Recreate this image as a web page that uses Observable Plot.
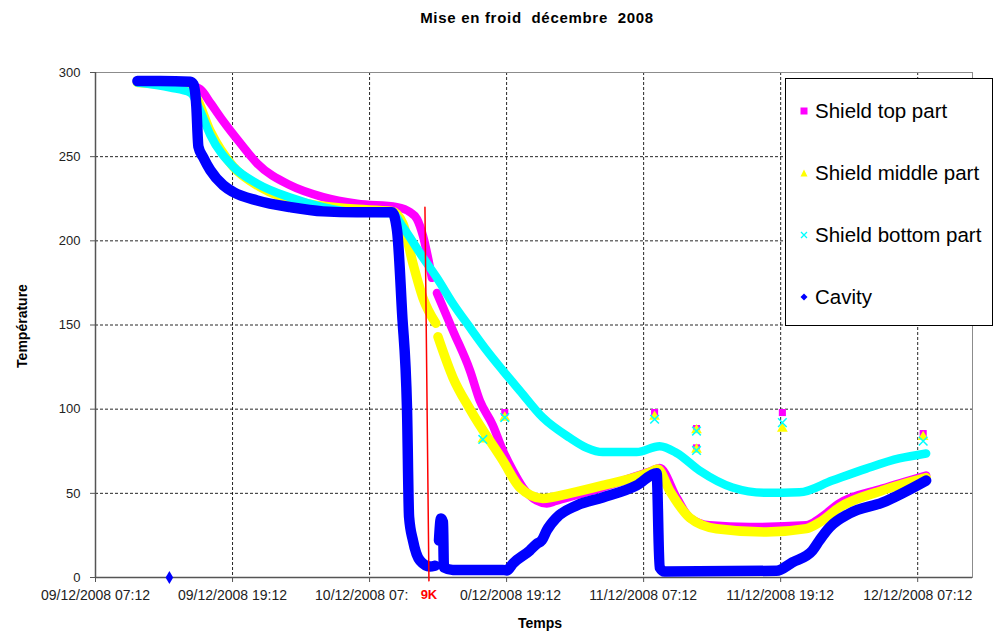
<!DOCTYPE html>
<html><head><meta charset="utf-8">
<script src="https://cdn.jsdelivr.net/npm/d3@7"></script>
<script src="https://cdn.jsdelivr.net/npm/@observablehq/plot@0.6"></script>
<style>
body{margin:0;background:#fff;font-family:"Liberation Sans",Arial,sans-serif;}
#wrap{position:relative;width:995px;height:631px;overflow:hidden;background:#fff}
#title{position:absolute;left:537px;top:9px;transform:translateX(-50%);font-weight:bold;font-size:15px;white-space:pre;color:#000;letter-spacing:0.7px}
#ylab{position:absolute;left:22px;top:326px;transform:translate(-50%,-50%) rotate(-90deg);font-weight:bold;font-size:14px;white-space:pre;color:#000}
#xlab{position:absolute;left:540px;top:623px;transform:translate(-50%,-50%);font-weight:bold;font-size:14px;color:#000}
#legend{position:absolute;left:785px;top:78px;width:206px;height:246px;border:1px solid #000;background:#fff}
.item{position:absolute;left:0;height:24px;display:flex;align-items:center;font-size:20.5px;color:#000;white-space:nowrap}
.item svg{margin-left:14px;margin-right:7px}
</style></head><body><div id="wrap"></div>
<script>
// time in hours since 09/12/2008 00:00
const T0 = Date.UTC(2008, 11, 9);
const toDate = h => new Date(T0 + h * 3600e3);

const seriesNames = ["Shield top part", "Shield middle part", "Shield bottom part", "Cavity"];
const seriesColors = ["#FF00FF", "#FFFF00", "#00FFFF", "#0000FF"];
const seriesSymbols = ["square", "triangle", "times", "diamond"];

const shieldTop = [[10.87,294.5],[13.5,294],[15.07,293],[16.38,290],[17.25,282],[18.39,271],[19.88,258],[21.36,246],[24.25,233],[27.13,226],[30.11,222],[33.6,220],[34.74,217],[35.35,213],[35.88,203],[36.66,178],null,[37.1,169],[38.5,146.7],[39.99,123],[40.86,105],[41.99,90.5],[42.87,75.5],[43.75,63.5],[44.62,53.5],[45.84,45.7],[46.72,44],[47.5,45.5],[51.62,53.5],[55.99,63.6],[56.6,65],[58.09,47.5],[59.22,35.6],[60.97,31],[64.47,30],[69.45,31],[70.59,35],[72.34,44],[76.1,52.8],[79.94,60.6]];
const shieldMiddle = [[10.87,294],[15.07,291],[15.94,286],[17.25,265],[19.27,244],[21.63,232],[25.12,223],[29.5,219],[33.17,217.5],[34.13,210],[35.0,186.5],[35.88,166],[37.0,151],null,[37.19,143],[38.5,118.8],[39.99,100],[42.87,69.5],[44.36,53.5],[46.37,47],[48.73,50],[51.62,54.7],[55.72,62.4],[56.42,64.5],[57.47,51.7],[59.22,35.6],[61.58,29],[65.95,27],[69.45,29],[70.59,32.7],[72.34,41.6],[76.1,51.7],[79.94,59.4]];
const shieldBottom = [[10.87,294],[13.76,291],[15.51,288],[16.38,277],[17.25,263],[19.27,244],[21.36,234],[24.25,225.7],[27.13,220],[30.11,217],[33.17,216.5],[34.13,208],[35.88,190],[37.1,178],[38.5,162.7],[39.99,148.5],[41.47,134.8],[42.87,123],[44.36,111],[46.37,95],[48.73,83],[50.22,77],[51.62,74.5],[54.59,74.5],[56.6,78],[58.09,74],[60.09,63.6],[62.98,53.5],[65.95,50.3],[68.84,50.6],[71.72,57.6],[74.7,64.7],[77.58,70.7],[79.94,73.7]];
const cavity = [[10.87,295],[12.88,295],[15.51,294.5],[15.77,293],[16.03,280],[16.21,256],[16.64,249.5],[17.25,242],[18.39,233],[19.27,229],[21.36,224],[24.25,220],[27.13,217.5],[30.11,217],[33.17,217],[33.61,206],[34.05,157],[34.48,100],[34.66,36],[35.0,22],[35.62,10],[36.49,6.5],[36.93,7],null,[37.28,22],[37.45,35],[37.63,33],[37.71,6],[38.5,4.5],[42.87,4.5],[43.22,4.2],[43.75,8.3],[45.23,16],[45.84,20],[46.28,22],[46.72,28],[47.59,35.6],[49.34,42.8],[51.62,47.5],[54.59,54.7],[56.34,62],[56.6,6],[57.03,3.5],[66.83,4],[68.23,9],[69.98,16],[70.59,22],[71.47,29.7],[73.22,38],[76.1,44.5],[79.94,57.6]];

const topPoints = [[43.04,98],[56.16,98],[59.83,88.5],[59.83,77],[67.35,98],[79.68,85.5]];
const middlePoints = [[41.12,82],[43.04,95],[56.16,95.5],[59.83,87.5],[59.83,76],[67.35,88.5],[79.68,83.5]];
const bottomPoints = [[41.12,82],[43.04,95],[56.16,94],[59.83,87],[59.83,75.5],[67.35,92],[79.68,81]];
const cavityPoints = [[13.67,0]];

const redLine = [[36.05,220],[36.40,-2]];
const redLabel = "9K";
const redLabelHour = 36.40;

const xTickHours = [7.2, 19.2, 31.2, 43.2, 55.2, 67.2, 79.2];
// labels as visible in the picture (partly hidden by the "9K" box)
const xTickLabels = ["09/12/2008 07:12","09/12/2008 19:12","10/12/2008 07:","\u20070/12/2008 19:12","11/12/2008 07:12","11/12/2008 19:12","12/12/2008 07:12"];
const yTicks = [0, 50, 100, 150, 200, 250, 300];
const xDomainHours = [7.2, 84];

const toRows = arr => arr.map(p => p ? {t: toDate(p[0]), v: p[1]} : {t: null, v: NaN});
const lineSeries = [shieldTop, shieldMiddle, shieldBottom, cavity];
const pointSeries = [topPoints, middlePoints, bottomPoints, cavityPoints];
const widths = [8.5, 9.5, 8.5, 10.5];

const xTicks = xTickHours.map(toDate);
const xLabelRows = xTicks.map((d, i) => ({t: d, label: xTickLabels[i]}));

const marks = [
  Plot.gridY(yTicks, {stroke: "#000", strokeOpacity: 0.85, strokeDasharray: "3,2"}),
  Plot.gridX(xTicks, {stroke: "#000", strokeOpacity: 0.85, strokeDasharray: "3,2"}),
  Plot.frame({stroke: "#8c8c8c"}),
  Plot.ruleX([toDate(xDomainHours[0])], {stroke: "#555", strokeWidth: 1.5}),
  Plot.ruleY([0], {stroke: "#555", strokeWidth: 1.5}),
];
lineSeries.forEach((s, i) => {
  marks.push(Plot.line(toRows(s), {
    x: "t", y: "v", stroke: seriesColors[i], strokeWidth: widths[i],
    curve: "monotone-x", strokeLinecap: "round", strokeLinejoin: "round"
  }));
});
pointSeries.forEach((s, i) => {
  const sym = seriesSymbols[i];
  const opts = {x: "t", y: "v", symbol: sym, r: 4};
  if (sym === "times") { opts.stroke = seriesColors[i]; opts.strokeWidth = 1.5; opts.fill = "none"; }
  else { opts.fill = seriesColors[i]; }
  marks.push(Plot.dot(toRows(s), opts));
});
marks.push(
  Plot.line(toRows(redLine), {x: "t", y: "v", stroke: "#FF0000", strokeWidth: 1.5}),
  Plot.axisY(yTicks, {tickSize: 5, tickPadding: 10, fontSize: 13, label: null, stroke: "#555", fill: "#222"}),
  Plot.axisX(xTicks, {tickSize: 5, label: null, stroke: "#555", tickFormat: () => ""}),
  Plot.text(xLabelRows, {x: "t", frameAnchor: "bottom", text: "label", dy: 22, dx: -54.5,
    textAnchor: "start", fontSize: 14, fill: "#222"}),
  Plot.text([{t: toDate(redLabelHour)}], {x: "t", frameAnchor: "bottom", text: () => redLabel, dy: 21,
    fill: "#FF0000", fontSize: 13, fontWeight: "bold"})
);

const chart = Plot.plot({
  width: 995, height: 631,
  marginLeft: 95, marginRight: 23, marginTop: 72, marginBottom: 54,
  x: {type: "utc", domain: xDomainHours.map(toDate)},
  y: {domain: [0, 300]},
  style: {fontFamily: "'Liberation Sans', Arial, sans-serif", background: "#fff", overflow: "visible"},
  marks
});

const wrap = document.getElementById("wrap");
wrap.appendChild(chart);
const add = (id, txt) => { const d = document.createElement("div"); d.id = id; d.textContent = txt; wrap.appendChild(d); return d; };
add("title", "Mise en froid  décembre  2008");
add("ylab", "Température");
add("xlab", "Temps");
const lg = add("legend", "");
const symSvg = (sym, c) => {
  if (sym === "square") return `<svg width="8" height="8"><rect x="0.5" y="0.5" width="7" height="7" fill="${c}"/></svg>`;
  if (sym === "triangle") return `<svg width="8" height="8"><path d="M4,0.5L7.5,7.5L0.5,7.5Z" fill="${c}"/></svg>`;
  if (sym === "times") return `<svg width="8" height="8"><path d="M1,1L7,7M7,1L1,7" stroke="${c}" stroke-width="1.3"/></svg>`;
  return `<svg width="8" height="8"><path d="M4,0.5L7.5,4L4,7.5L0.5,4Z" fill="${c}"/></svg>`;
};
const rowTops = [20, 82, 144, 206];
seriesNames.forEach((n, i) => {
  const it = document.createElement("div");
  it.className = "item";
  it.style.top = rowTops[i] + "px";
  it.innerHTML = symSvg(seriesSymbols[i], seriesColors[i]) + "<span>" + n + "</span>";
  lg.appendChild(it);
});
</script></body></html>
